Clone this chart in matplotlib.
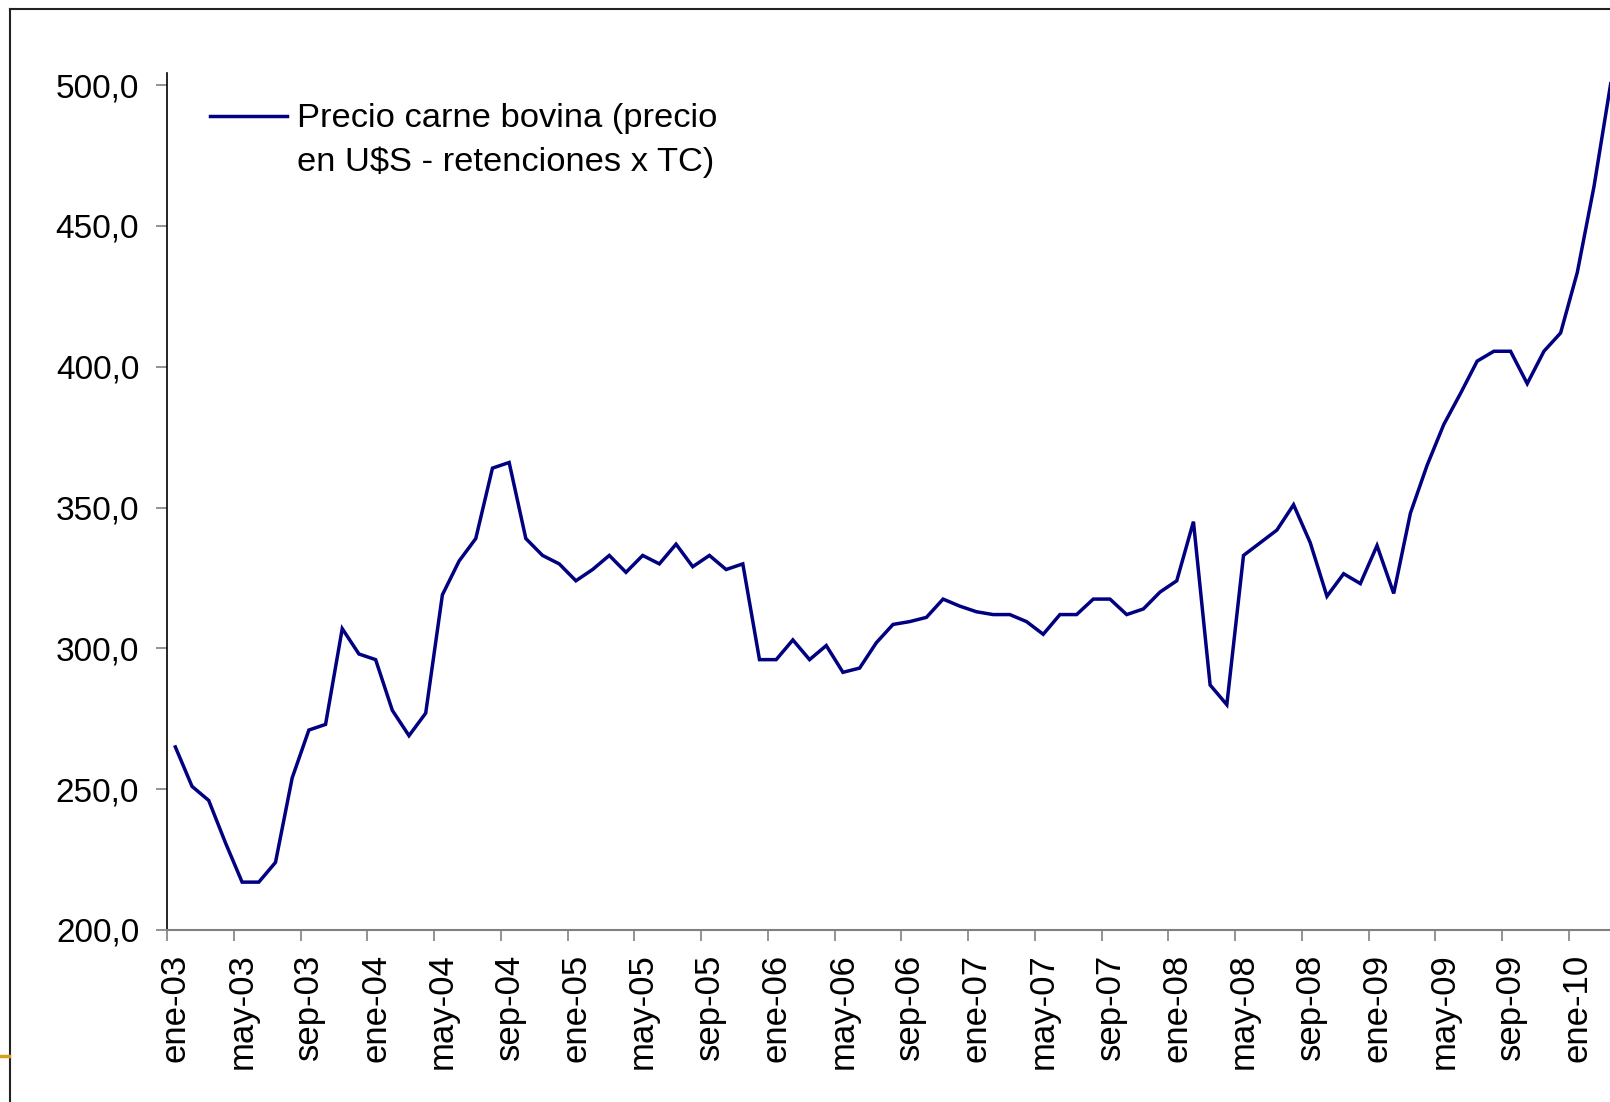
import matplotlib
matplotlib.use("Agg")
import matplotlib.pyplot as plt
from matplotlib.lines import Line2D

plt.rcParams['font.family'] = ['Liberation Sans', 'DejaVu Sans']

# precio mensual de la carne bovina, ene-03 en adelante
precio = [265, 251, 246, 231, 217, 217, 224, 254, 271, 273,
          307, 298, 296, 278, 269, 277, 319, 331, 339, 364,
          366, 339, 333, 330, 324, 328, 333, 327, 333, 330,
          337, 329, 333, 328, 330, 296, 296, 303, 296, 301,
          291.5, 293, 302, 308.5, 309.5, 311, 317.5, 315, 313, 312,
          312, 309.5, 305, 312, 312, 317.5, 317.5, 312, 314, 320,
          324, 345, 287, 280, 333, 337.5, 342, 351, 337.5, 318.5,
          326.5, 323, 336.5, 319.5, 348, 365, 379.5, 390.5, 402, 405.5,
          405.5, 394, 405.5, 412, 433.5, 464, 500.5]
meses = ['ene', 'may', 'sep']
anios = ['03', '04', '05', '06', '07', '08', '09', '10']
y_ticks = [200, 250, 300, 350, 400, 450, 500]
serie = ['Precio carne bovina (precio', 'en U\\$S - retenciones x TC)']

n = len(precio)
etiquetas = [f'{m}-{a}' for a in anios for m in meses][:len(range(0, n, 4))]

W, H = 1610, 1102
fig = plt.figure(figsize=(W / 100, H / 100), dpi=100)

# eje que sigue mas alla del borde derecho
x0, y0, y1 = 167, 930, 73
px_mes = 16.69
ax = fig.add_axes([x0 / W, 1 - y0 / H, n * px_mes / W, (y0 - y1) / H])

xs = list(range(n))
ax.plot(xs, precio, color='#000080', lw=2.5, solid_joinstyle='miter')

ax.set_xlim(-0.5, n - 0.5)
ax.set_ylim(200, 504.3)

ax.set_yticks(y_ticks)
ax.set_yticklabels([f'{v:.1f}'.replace('.', ',') for v in y_ticks])
ax.tick_params(axis='y', labelsize=24, length=8, width=1.2, color='#808080', pad=12)

ax.set_xticks(list(range(0, n, 4)))
ax.set_xticklabels(etiquetas, rotation=90)
ax.set_xticks([i - 0.5 for i in range(0, n, 4)], minor=True)
ax.tick_params(axis='x', which='major', labelsize=25, length=0, pad=17)
ax.tick_params(axis='x', which='minor', length=8, width=1.2, color='#808080')

for s in ['top', 'right']:
    ax.spines[s].set_visible(False)
ax.spines['left'].set_color('black')
ax.spines['left'].set_linewidth(1.2)
ax.spines['bottom'].set_color('#808080')
ax.spines['bottom'].set_linewidth(1.5)

# leyenda: trazo a la altura de la primera linea del texto
fig.add_artist(Line2D([210 / W, 287 / W], [1 - 116 / H] * 2, color='#000080', lw=2.5))
fig.text(297 / W, 1 - 127.5 / H, serie[0], fontsize=24.8, va='baseline')
fig.text(297 / W, 1 - 171.5 / H, serie[1], fontsize=24.8, va='baseline')

# marco de la diapositiva
fig.add_artist(Line2D([10 / W, 1], [1 - 9.3 / H] * 2, color='#222222', lw=1.5))
fig.add_artist(Line2D([10 / W] * 2, [1 - 9.3 / H, 0], color='#222222', lw=1.5))
fig.add_artist(Line2D([0, 9 / W], [1 - 1055.7 / H] * 2, color='#D4A020', lw=2.5))

fig.savefig('out.png', dpi=100)
